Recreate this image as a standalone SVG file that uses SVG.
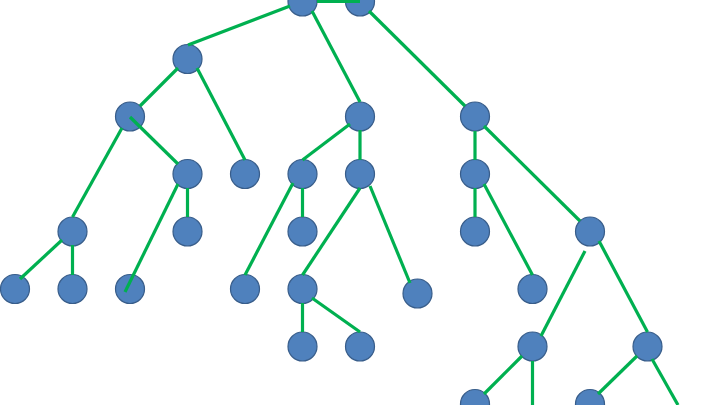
<svg xmlns="http://www.w3.org/2000/svg" width="720" height="405" viewBox="0 0 720 405">
<style>
.n{fill:#4F81BD;stroke:#385D8A;stroke-width:1.2}
.e{stroke:#00B050;stroke-width:3.2;fill:none}
</style>
<rect width="720" height="405" fill="#fff"/>
<g id="nodes">
<g id="n1"><circle class="n" cx="302.5" cy="1.5" r="14.5"/></g>
<g id="n2"><circle class="n" cx="360" cy="1.5" r="14.5"/></g>
<g id="n3"><circle class="n" cx="187.5" cy="59" r="14.5"/></g>
<g id="n4"><circle class="n" cx="130" cy="116.5" r="14.5"/></g>
<g id="n5"><circle class="n" cx="360" cy="116.5" r="14.5"/></g>
<g id="n6"><circle class="n" cx="475" cy="116.5" r="14.5"/></g>
<g id="n7"><circle class="n" cx="187.5" cy="174" r="14.5"/></g>
<g id="n8"><circle class="n" cx="245" cy="174" r="14.5"/></g>
<g id="n9"><circle class="n" cx="302.5" cy="174" r="14.5"/></g>
<g id="n10"><circle class="n" cx="360" cy="174" r="14.5"/></g>
<g id="n11"><circle class="n" cx="475" cy="174" r="14.5"/></g>
<g id="n12"><circle class="n" cx="72.5" cy="231.5" r="14.5"/></g>
<g id="n13"><circle class="n" cx="187.5" cy="231.5" r="14.5"/></g>
<g id="n14"><circle class="n" cx="302.5" cy="231.5" r="14.5"/></g>
<g id="n15"><circle class="n" cx="475" cy="231.5" r="14.5"/></g>
<g id="n16"><circle class="n" cx="590" cy="231.5" r="14.5"/></g>
<g id="n17"><circle class="n" cx="15" cy="289" r="14.5"/></g>
<g id="n18"><circle class="n" cx="72.5" cy="289" r="14.5"/></g>
<g id="n19"><circle class="n" cx="130" cy="289" r="14.5"/></g>
<g id="n20"><circle class="n" cx="245" cy="289" r="14.5"/></g>
<g id="n21"><circle class="n" cx="302.5" cy="289" r="14.5"/></g>
<g id="n22"><circle class="n" cx="417.5" cy="293.5" r="14.5"/></g>
<g id="n23"><circle class="n" cx="532.5" cy="289" r="14.5"/></g>
<g id="n24"><circle class="n" cx="302.5" cy="346.5" r="14.5"/></g>
<g id="n25"><circle class="n" cx="360" cy="346.5" r="14.5"/></g>
<g id="n26"><circle class="n" cx="532.5" cy="346.5" r="14.5"/></g>
<g id="n27"><circle class="n" cx="647.5" cy="346.5" r="14.5"/></g>
<g id="n28"><circle class="n" cx="475" cy="404" r="14.5"/></g>
<g id="n29"><circle class="n" cx="590" cy="404" r="14.5"/></g>
</g>
<g id="connectors" class="e">
<line x1="290" y1="6" x2="188" y2="45"/>
<line x1="317" y1="1.5" x2="360" y2="1.5"/>
<line x1="312" y1="11" x2="360" y2="102"/>
<line x1="369" y1="11" x2="465" y2="106"/>
<line x1="178" y1="68" x2="140" y2="106"/>
<line x1="197" y1="68" x2="245" y2="160"/>
<line x1="130" y1="117" x2="178" y2="164"/>
<line x1="122" y1="128" x2="72.5" y2="217"/>
<line x1="187.5" y1="188" x2="187.5" y2="217"/>
<line x1="178" y1="184" x2="125" y2="292"/>
<line x1="62" y1="240" x2="20" y2="279"/>
<line x1="72.5" y1="245" x2="72.5" y2="275"/>
<line x1="350" y1="124" x2="302.5" y2="160"/>
<line x1="360" y1="130" x2="360" y2="160"/>
<line x1="302.5" y1="188" x2="302.5" y2="217"/>
<line x1="293" y1="183" x2="245" y2="275"/>
<line x1="360" y1="188" x2="302.5" y2="275"/>
<line x1="370" y1="186" x2="410" y2="283"/>
<line x1="302.5" y1="303" x2="302.5" y2="332"/>
<line x1="312" y1="298" x2="360" y2="332"/>
<line x1="475" y1="131" x2="475" y2="160"/>
<line x1="484" y1="126" x2="580" y2="221"/>
<line x1="475" y1="188" x2="475" y2="217"/>
<line x1="484" y1="184" x2="532.5" y2="275"/>
<line x1="585" y1="251" x2="541" y2="336"/>
<line x1="599" y1="241" x2="647.5" y2="332"/>
<line x1="522" y1="356" x2="484" y2="394"/>
<line x1="532.5" y1="361" x2="532.5" y2="405"/>
<line x1="637" y1="356" x2="598" y2="394"/>
<line x1="652" y1="359" x2="678" y2="405"/>
</g>
</svg>
